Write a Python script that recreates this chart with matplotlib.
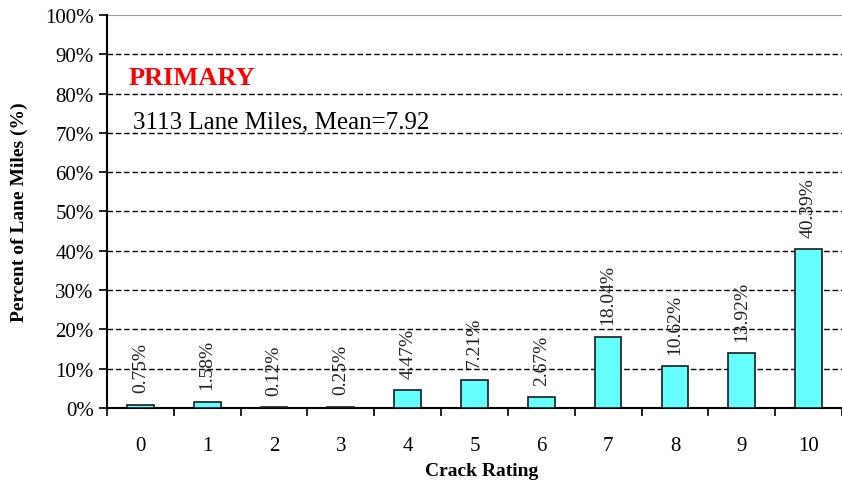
import numpy as np
import matplotlib.pyplot as plt
from matplotlib.ticker import FixedLocator, PercentFormatter

# Crack rating distribution, primary routes
ratings = [0, 1, 2, 3, 4, 5, 6, 7, 8, 9, 10]
percents = [0.75, 1.58, 0.12, 0.25, 4.47, 7.21, 2.67, 18.04, 10.62, 13.92, 40.39]
label_txt = ["0.75%", "1.58%", "0.12%", "0.25%", "4.47%", "7.21%", "2.67%",
             "18.04%", "10.62%", "13.92%", "40.39%"]

plt.rcParams['font.family'] = ['Liberation Serif', 'DejaVu Serif']

fig = plt.figure(figsize=(8.42, 4.85), dpi=100)
ax = fig.add_axes([0.127, 0.157, 0.873, 0.81])

ax.bar(ratings, percents, width=0.4, color='#66ffff', edgecolor='#1a1a1a',
       linewidth=1.2, zorder=3)

for x, v, t in zip(ratings, percents, label_txt):
    ax.annotate(t, (x, v), xytext=(0, 9), textcoords='offset points',
                rotation=90, ha='center', va='bottom', fontsize=14,
                color='#222222', zorder=4)

ax.set_xlim(-0.5, 10.5)
ax.set_ylim(0, 100)
ax.set_yticks(np.arange(0, 101, 10))
ax.yaxis.set_major_formatter(PercentFormatter(decimals=0))
ax.set_xticks(ratings)
ax.xaxis.set_minor_locator(FixedLocator(np.arange(-0.5, 10.6, 1)))
ax.tick_params(axis='x', which='major', length=0, labelsize=15, pad=20)
ax.tick_params(axis='x', which='minor', length=6, width=1.2, direction='out')
ax.tick_params(axis='y', length=6, width=1.2, direction='out', labelsize=15)

for y in range(10, 100, 10):
    ax.axhline(y, color='black', linestyle=(0, (4, 2)), linewidth=1, zorder=1)
ax.axhline(100, color='#999999', linewidth=1.5, zorder=1)

ax.spines['top'].set_visible(False)
ax.spines['right'].set_visible(False)
ax.spines['left'].set_linewidth(1.5)
ax.spines['bottom'].set_linewidth(1.5)

ax.set_xlabel("Crack Rating", fontsize=14, fontweight='bold')
ax.xaxis.set_label_coords(0.51, -0.137)
ax.set_ylabel("Percent of Lane Miles (%)", fontsize=14, fontweight='bold')
ax.yaxis.set_label_coords(-0.107, 0.5)

ax.text(0.03, 0.84, "PRIMARY", transform=ax.transAxes, color='red',
        fontsize=19, fontweight='bold', va='center')
ax.text(0.035, 0.73, "3113 Lane Miles, Mean=7.92", transform=ax.transAxes,
        fontsize=18, va='center')

fig.savefig("out.png", dpi=100)
